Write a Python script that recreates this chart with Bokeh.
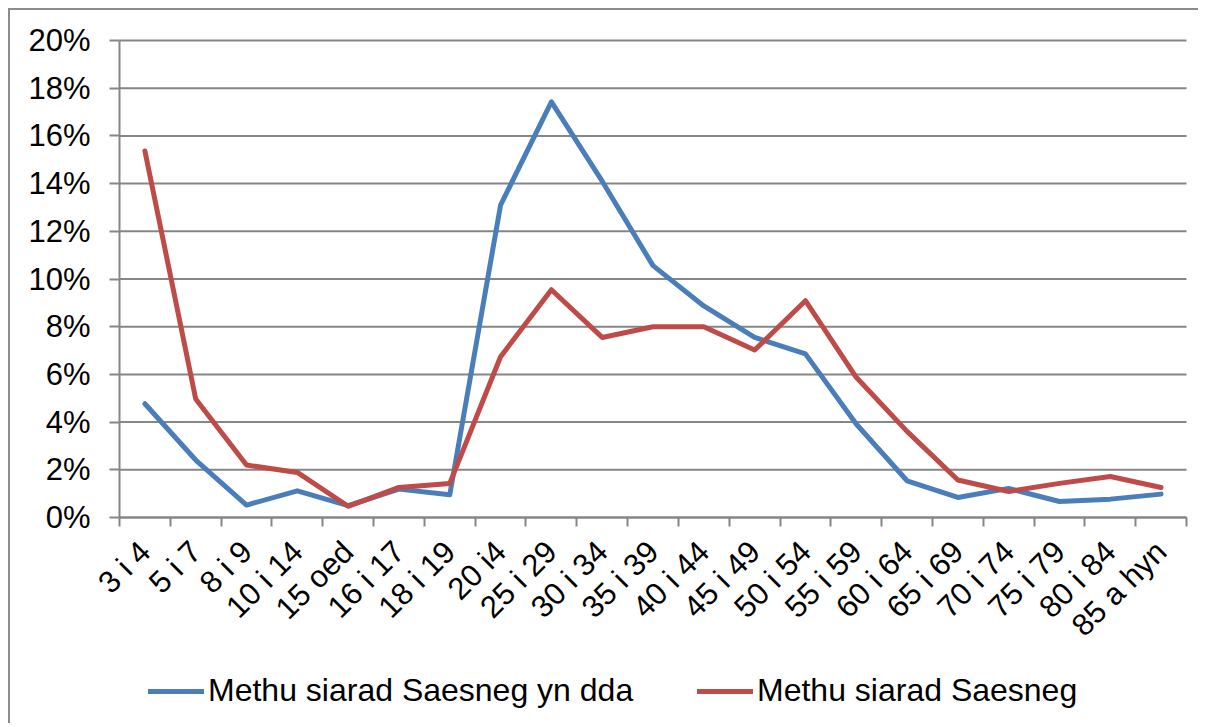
import math
from bokeh.plotting import figure
from bokeh.models import (FixedTicker, PrintfTickFormatter, Range1d, Legend, LegendItem,
                          ColumnDataSource)
from bokeh.embed import file_html
from bokeh.resources import INLINE

categories = ["3 i 4", "5 i 7", "8 i 9", "10 i 14", "15 oed", "16 i 17", "18 i 19",
              "20 i4", "25 i 29", "30 i 34", "35 i 39", "40 i 44", "45 i 49", "50 i 54",
              "55 i 59", "60 i 64", "65 i 69", "70 i 74", "75 i 79", "80 i 84", "85 a hyn"]
methu_dda = [4.77, 2.41, 0.52, 1.12, 0.5, 1.19, 0.95, 13.1, 17.43, 14.1, 10.56, 8.87,
             7.55, 6.86, 3.92, 1.54, 0.84, 1.22, 0.67, 0.77, 0.98]
methu = [15.37, 4.97, 2.2, 1.89, 0.47, 1.26, 1.43, 6.74, 9.55, 7.55, 8.0, 8.0,
         7.02, 9.09, 5.88, 3.61, 1.57, 1.09, 1.43, 1.72, 1.26]
y_ticks = [0, 2, 4, 6, 8, 10, 12, 14, 16, 18, 20]
series_names = ["Methu siarad Saesneg yn dda", "Methu siarad Saesneg"]

FONT = "Liberation Sans"
FS = "31px"
GRID = "#868686"
BLUE = "#4A7EBB"
RED = "#BE4B48"

n = len(categories)
xs = [i + 0.5 for i in range(n)]

# The frame covers the whole figure; axes are placed at fixed data locations.
W, H = 1190, 715
PLOT_L, PLOT_R, PLOT_T, PLOT_B = 109, 1176, 30, 507   # plot area in px
pxu_x = (PLOT_R - PLOT_L) / n
pxu_y = (PLOT_B - PLOT_T) / 20.0
x_start = -PLOT_L / pxu_x
x_end = n + (W - PLOT_R) / pxu_x
y_end = 20 + PLOT_T / pxu_y
y_start = -(H - PLOT_B) / pxu_y

p = figure(width=W, height=H, output_backend="svg", toolbar_location=None,
           x_range=Range1d(x_start, x_end), y_range=Range1d(y_start, y_end),
           min_border_left=0, min_border_right=0, min_border_top=0,
           min_border_bottom=0)
p.styles = {"margin-left": "8px", "margin-top": "8px",
            "border-top": "2px solid #8c8c8c", "border-left": "2px solid #8c8c8c"}
p.outline_line_color = None
p.grid.visible = False

# horizontal gridlines, limited to the plot area
p.segment(x0=[0] * len(y_ticks), x1=[n] * len(y_ticks), y0=y_ticks, y1=y_ticks,
          line_color=GRID, line_width=2)

# x axis: labels at centres, tick marks at category boundaries
p.xaxis.fixed_location = 0
p.xaxis.bounds = (0, n)
p.xaxis.ticker = FixedTicker(ticks=xs, minor_ticks=list(range(n + 1)))
p.xaxis.major_label_overrides = {x: c for x, c in zip(xs, categories)}
p.xaxis.major_tick_line_color = None
p.xaxis.minor_tick_line_color = GRID
p.xaxis.minor_tick_line_width = 2
p.xaxis.minor_tick_out = 9
p.xaxis.minor_tick_in = 0
p.xaxis.axis_line_color = GRID
p.xaxis.axis_line_width = 2
p.xaxis.major_label_orientation = math.pi / 4
p.xaxis.major_label_text_font = FONT
p.xaxis.major_label_text_font_size = FS
p.xaxis.major_label_text_color = "black"
p.xaxis.major_label_standoff = 20

p.yaxis.fixed_location = 0
p.yaxis.bounds = (0, 20)
p.yaxis.ticker = FixedTicker(ticks=y_ticks, minor_ticks=[])
p.yaxis.formatter = PrintfTickFormatter(format="%d%%")
p.yaxis.major_tick_line_color = GRID
p.yaxis.major_tick_line_width = 2
p.yaxis.major_tick_out = 10
p.yaxis.major_tick_in = 0
p.yaxis.axis_line_color = GRID
p.yaxis.axis_line_width = 2
p.yaxis.major_label_text_font = FONT
p.yaxis.major_label_text_font_size = FS
p.yaxis.major_label_text_color = "black"
p.yaxis.major_label_standoff = 19

src = ColumnDataSource(dict(x=xs, a=methu_dda, b=methu))
r1 = p.line("x", "a", source=src, line_color=BLUE, line_width=5, line_join="round", line_cap="round")
r2 = p.line("x", "b", source=src, line_color=RED, line_width=5, line_join="round", line_cap="round")

for r, name, loc in [(r1, series_names[0], (138, 16)), (r2, series_names[1], (687, 16))]:
    lg = Legend(items=[LegendItem(label=name, renderers=[r])], location=loc,
                orientation="horizontal", border_line_color=None, background_fill_alpha=0,
                padding=0, margin=0, glyph_width=56, glyph_height=30, label_height=30,
                label_standoff=4, label_text_font=FONT, label_text_font_size="32px",
                label_text_color="black")
    p.add_layout(lg, "center")

open("out.html", "w").write(file_html(p, INLINE))
